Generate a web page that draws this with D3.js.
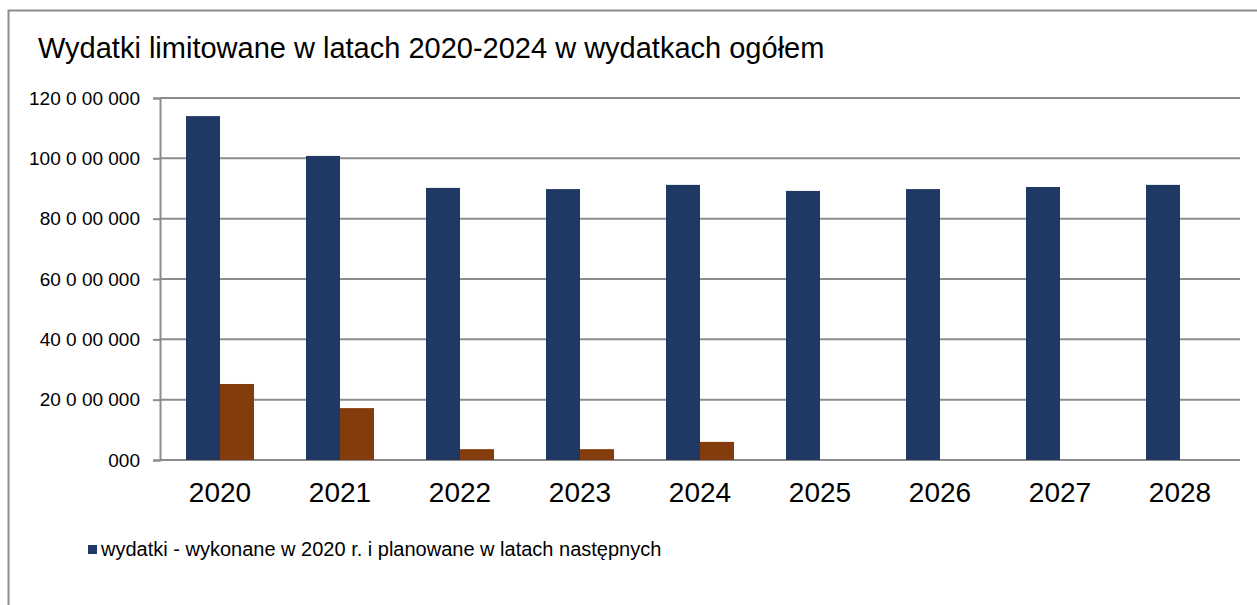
<!DOCTYPE html>
<html>
<head>
<meta charset="utf-8">
<script src="https://cdn.jsdelivr.net/npm/d3@7"></script>
<style>
  body { margin: 0; background: #fff; }
  text { font-family: "Liberation Sans", Arial, sans-serif; fill: #000; }
</style>
</head>
<body>
<div id="chart"></div>
<script>
var years = ["2020", "2021", "2022", "2023", "2024", "2025", "2026", "2027", "2028"];
var wydatki = [114.0, 100.8, 90.2, 89.8, 91.2, 89.2, 89.8, 90.5, 91.2];   // mln
var limitowane = [25.2, 17.2, 3.6, 3.6, 6.0, 0, 0, 0, 0];                  // mln
var yTicks = [0, 20, 40, 60, 80, 100, 120];
var yTickLabels = ["000", "20 0 00 000", "40 0 00 000", "60 0 00 000", "80 0 00 000", "100 0 00 000", "120 0 00 000"];

var W = 1257, H = 605;
var margin = {left: 160, right: 17, top: 98, bottom: 145};
var width = W - margin.left - margin.right;
var height = H - margin.top - margin.bottom;

var svg = d3.select("#chart").append("svg")
  .attr("width", W)
  .attr("height", H)

// outer frame (left + top only visible)
svg.append("path")
  .attr("d", "M8.5," + H + " V10.5 H" + W)
  .attr("fill", "none")
  .attr("stroke", "#8c8c8c")
  .attr("stroke-width", 2)

svg.append("text")
  .text("Wydatki limitowane w latach 2020-2024 w wydatkach ogółem")
  .attr("x", 38)
  .attr("y", 58)
  .attr("font-size", "29px")

var g = svg.append("g")
  .attr("transform", "translate(" + margin.left + "," + margin.top + ")")

var x = d3.scaleBand()
  .domain(years)
  .range([0, width])

var y = d3.scaleLinear()
  .domain([0, 120])
  .range([height, 0])

// gridlines
g.selectAll(".grid")
  .data(yTicks)
  .enter().append("line")
    .attr("x1", 0)
    .attr("x2", width)
    .attr("y1", function(d) { return y(d); })
    .attr("y2", function(d) { return y(d); })
    .attr("stroke", "#8c8c8c")
    .attr("stroke-width", 2)

// y axis
var yAxis = g.append("g")
  .call(d3.axisLeft(y)
    .tickValues(yTicks)
    .tickSize(7)
    .tickPadding(13)
    .tickFormat(function(d, i) { return yTickLabels[i]; }))
yAxis.select(".domain").attr("stroke", "#8c8c8c").attr("stroke-width", 2)
yAxis.selectAll(".tick line").attr("stroke", "#8c8c8c").attr("stroke-width", 2)
yAxis.selectAll(".tick text")
  .attr("font-size", "19px")
  .attr("font-family", "Liberation Sans, Arial, sans-serif")
  .attr("fill", "#000")

// bars
var barW = 34;
g.selectAll(".bar-blue")
  .data(wydatki)
  .enter().append("rect")
    .attr("x", function(d, i) { return x(years[i]) + x.bandwidth() / 2 - barW; })
    .attr("y", function(d) { return y(d); })
    .attr("width", barW)
    .attr("height", function(d) { return height - y(d); })
    .attr("fill", "#203864")

g.selectAll(".bar-orange")
  .data(limitowane)
  .enter().append("rect")
    .attr("x", function(d, i) { return x(years[i]) + x.bandwidth() / 2; })
    .attr("y", function(d) { return y(d); })
    .attr("width", barW)
    .attr("height", function(d) { return height - y(d); })
    .attr("fill", "#843c0c")

// x labels
g.selectAll(".xlab")
  .data(years)
  .enter().append("text")
    .text(function(d) { return d; })
    .attr("x", function(d) { return x(d) + x.bandwidth() / 2; })
    .attr("y", height + 42)
    .attr("text-anchor", "middle")
    .attr("font-size", "28px")

// legend
svg.append("rect")
  .attr("x", 88)
  .attr("y", 545)
  .attr("width", 9)
  .attr("height", 9)
  .attr("fill", "#203864")

svg.append("text")
  .text("wydatki - wykonane w 2020 r. i planowane w latach następnych")
  .attr("x", 101)
  .attr("y", 556)
  .attr("font-size", "20px")
</script>
</body>
</html>
